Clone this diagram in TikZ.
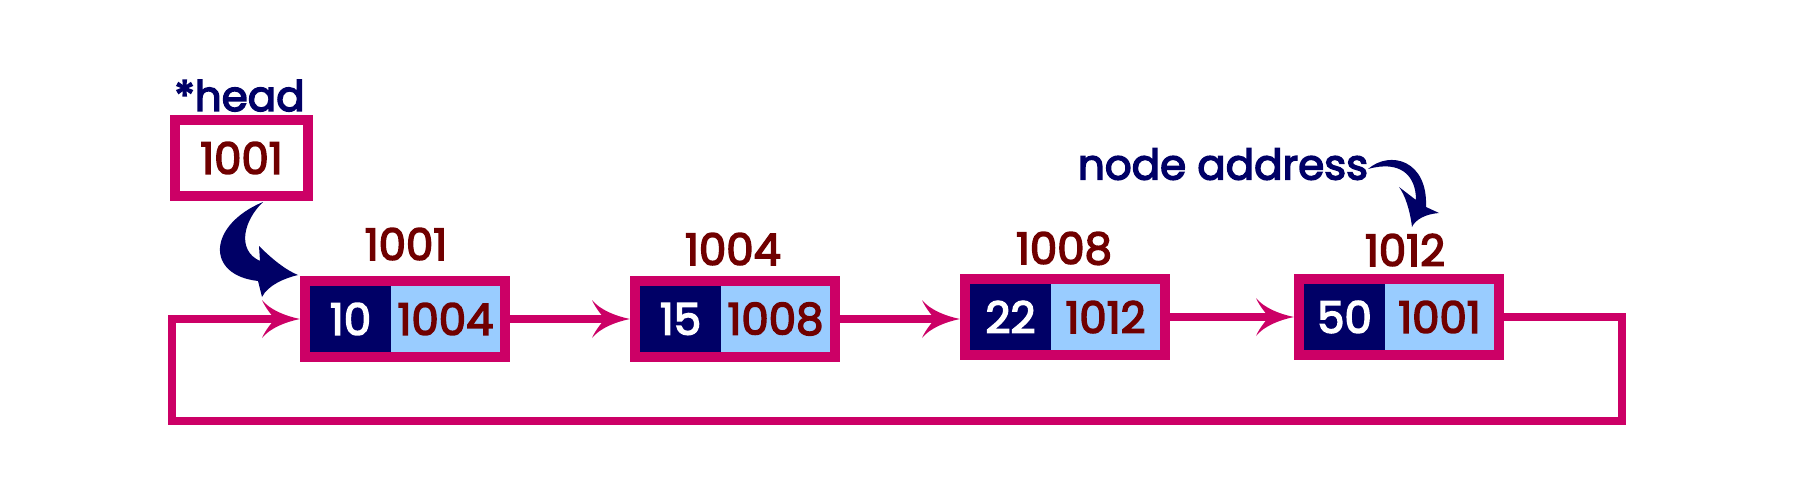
\documentclass[tikz,border=0pt]{standalone}
\usepackage{fontspec}
\setmainfont{Poppins}
\newfontfamily\dgfam{Poppins}[FakeBold=3.5]
\usetikzlibrary{arrows.meta,calc}
\definecolor{pinkc}{RGB}{204,0,102}
\definecolor{navyc}{RGB}{0,0,102}
\definecolor{lblue}{RGB}{153,204,255}
\definecolor{dred}{RGB}{112,0,0}
\newcommand\dgfont{\dgfam\fontsize{43.5}{43.5}\selectfont}
\newcommand\nvfont{\dgfam\fontsize{42}{42}\selectfont}
\pgfdeclarearrow{
  name = Barb,
  parameters = {\the\pgfarrowlength,\the\pgfarrowwidth,\the\pgfarrowinset},
  setup code = {
    \pgfarrowssettipend{0pt}
    \pgfarrowssetbackend{-\pgfarrowlength}
    \pgfarrowssetlineend{-0.6\pgfarrowlength}
    \pgfarrowshullpoint{0pt}{0pt}
    \pgfarrowshullpoint{-\pgfarrowlength}{.5\pgfarrowwidth}
    \pgfarrowshullpoint{-\pgfarrowlength}{-.5\pgfarrowwidth}
    \pgfarrowssavethe\pgfarrowlength
    \pgfarrowssavethe\pgfarrowwidth
    \pgfarrowssavethe\pgfarrowinset
  },
  drawing code = {
    \pgfpathmoveto{\pgfpointorigin}
    \pgfpathcurveto{\pgfpoint{-.4\pgfarrowlength}{.08\pgfarrowwidth}}{\pgfpoint{-.8\pgfarrowlength}{.25\pgfarrowwidth}}{\pgfpoint{-\pgfarrowlength}{.5\pgfarrowwidth}}
    \pgfpathcurveto{\pgfpoint{-\pgfarrowlength+.3\pgfarrowinset}{.27\pgfarrowwidth}}{\pgfpoint{-\pgfarrowlength+.75\pgfarrowinset}{.1\pgfarrowwidth}}{\pgfpoint{-\pgfarrowlength+\pgfarrowinset}{0pt}}
    \pgfpathcurveto{\pgfpoint{-\pgfarrowlength+.75\pgfarrowinset}{-.1\pgfarrowwidth}}{\pgfpoint{-\pgfarrowlength+.3\pgfarrowinset}{-.27\pgfarrowwidth}}{\pgfpoint{-\pgfarrowlength}{-.5\pgfarrowwidth}}
    \pgfpathcurveto{\pgfpoint{-.8\pgfarrowlength}{-.25\pgfarrowwidth}}{\pgfpoint{-.4\pgfarrowlength}{-.08\pgfarrowwidth}}{\pgfpointorigin}
    \pgfpathclose
    \pgfusepathqfill
  },
  defaults = {length=38pt, width=38pt, inset=13pt}
}
\begin{document}
\begin{tikzpicture}[x=1pt,y=-1pt,
  listbox/.style={draw=pinkc, line width=10pt, fill=lblue, minimum width=200pt, minimum height=76pt, inner sep=0pt},
  headbox/.style={draw=pinkc, line width=10pt, fill=white, minimum width=133pt, minimum height=76pt, inner sep=0pt, text=dred, font=\dgfont},
  datapart/.style={fill=navyc, minimum width=81pt, minimum height=66pt, inner sep=0pt, text=white, font=\dgfont},
  ptrtext/.style={text=dred, inner sep=0pt, font=\dgfont},
  addr/.style={text=dred, inner sep=0pt, font=\dgfont, anchor=base},
  navytext/.style={text=navyc, inner sep=0pt, font=\nvfont, anchor=base},
  link/.style={draw=pinkc, line width=7.5pt, line join=miter, -{Barb[length=38pt,width=38pt,inset=13pt]}},
  curvyarrow/.style={fill=navyc}
]
\useasboundingbox (0,0) rectangle (1800,500);
% head pointer
\node[navytext] (headlbl) at (239.5,111) {*head};
\node[headbox] (head) at (241.5,158) {1001};
% list nodes
\foreach \i/\x/\y/\d/\p/\a/\ax/\ay in {1/405/319/10/1004/1001/406/260, 2/735/319/15/1008/1004/733/265, 3/1065/317/22/1012/1008/1064/264, 4/1399/317/50/1001/1012/1405/266} {
  \node[listbox] (n\i) at (\x,\y) {};
  \node[datapart] (d\i) at (\x-54.5,\y) {\d};
  \node[ptrtext] (p\i) at (\x+40.5,\y) {\p};
  \node[addr] (a\i) at (\ax,\ay) {\a};
}
\node[navytext] (nodeaddr) at (1223,179.5) {node address};
% links
\draw[link] (n1.east) -- (n1.east -| n2.west);
\draw[link] (n2.east) -- (n2.east -| n3.west);
\draw[link] (n3.east) -- (n3.east -| n4.west);
\coordinate (lr) at (1622,421);
\coordinate (ll) at (172,421);
\draw[link] (n4.east) -| (lr) -- (ll) |- (n1.west);
% curved navy arrows
\fill[curvyarrow] (263,202) .. controls (244,220) and (236,250) .. (260,261) -- (259,246) .. controls (275,262) and (288,271) .. (298,275) .. controls (285,278) and (268,285) .. (262,297) -- (258,281) .. controls (205,275) and (208,225) .. cycle;
\fill[curvyarrow] (1368,169) .. controls (1390,150) and (1428,160) .. (1426,207) -- (1439,213) .. controls (1425,214) and (1415,220) .. (1412,227) .. controls (1410,210) and (1405,195) .. (1399,187) -- (1416,200) .. controls (1416,175) and (1400,160) .. cycle;
\end{tikzpicture}
\end{document}
